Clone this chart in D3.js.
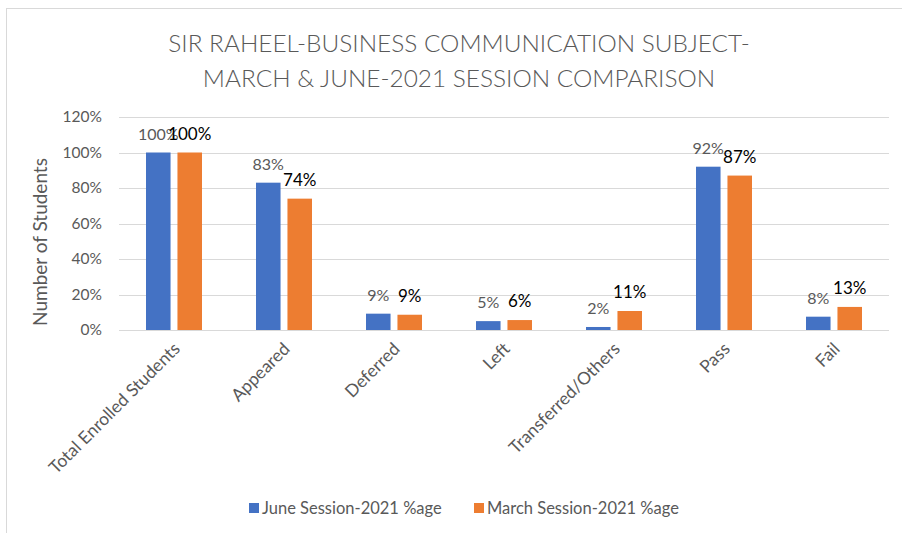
<!DOCTYPE html>
<html>
<head>
<meta charset="utf-8">
<script src="https://cdn.jsdelivr.net/npm/d3@7"></script>
<style>
  body { margin: 0; background: #fff; }
  text { font-family: Lato, "Open Sans", sans-serif; }
</style>
</head>
<body>
<div id="chart"></div>
<script>
var categories = ["Total Enrolled Students", "Appeared", "Deferred", "Left", "Transferred/Others", "Pass", "Fail"];
var juneValues = [100, 83, 9.2, 5, 1.7, 92, 7.5];
var marchValues = [100, 74, 8.6, 5.6, 10.7, 87, 13];
var seriesNames = ["June Session-2021 %age", "March Session-2021 %age"];
var seriesColors = ["#4472C4", "#ED7D31"];
var yTicks = [0, 20, 40, 60, 80, 100, 120];
var titleLines = ["SIR RAHEEL-BUSINESS COMMUNICATION SUBJECT-", "MARCH & JUNE-2021 SESSION COMPARISON"];

var W = 902, H = 533;
var margin = {left: 119, right: 13, top: 117, bottom: 203};

var svg = d3.select("#chart").append("svg")
	.attr("width", W)
	.attr("height", H);

// chart frame
svg.append("rect")
	.attr("x", 6.5).attr("y", 8.5)
	.attr("width", W + 10).attr("height", H + 10)
	.attr("fill", "#fff")
	.attr("stroke", "#d9d9d9");

// title
svg.selectAll(".title")
	.data(titleLines)
	.enter().append("text")
	.attr("class", "title")
	.attr("x", 459)
	.attr("y", function(d, i){ return 52 + i * 35; })
	.attr("text-anchor", "middle")
	.attr("fill", "#595959")
	.style("font-size", "24.4px")
	.style("font-weight", 300)
	.text(function(d){ return d; });

var x = d3.scaleBand()
	.domain(categories)
	.range([margin.left, W - margin.right]);

var xInner = d3.scaleBand()
	.domain([0, 1])
	.range([27, 83])
	.paddingInner(0.22);

var y = d3.scaleLinear()
	.domain([0, 120])
	.range([H - margin.bottom, margin.top]);

// gridlines
svg.append("g")
	.selectAll("line")
	.data(yTicks)
	.enter().append("line")
	.attr("x1", margin.left)
	.attr("x2", W - margin.right)
	.attr("y1", function(d){ return Math.round(y(d)) + 0.5; })
	.attr("y2", function(d){ return Math.round(y(d)) + 0.5; })
	.attr("stroke", "#d9d9d9")
	.attr("stroke-width", 1);

// y axis labels
var yAxis = d3.axisLeft(y)
	.tickValues(yTicks)
	.tickFormat(function(d){ return d + "%"; })
	.tickSize(0)
	.tickPadding(17);
var yg = svg.append("g")
	.attr("transform", "translate(" + margin.left + ",0)")
	.call(yAxis);
yg.select(".domain").remove();
yg.selectAll("text")
	.attr("fill", "#595959")
	.style("font-size", "15.5px");

svg.append("text")
	.attr("transform", "translate(47,242) rotate(-90)")
	.attr("text-anchor", "middle")
	.attr("fill", "#595959")
	.style("font-size", "19px")
	.text("Number of Students");

// x axis labels
var xAxis = d3.axisBottom(x).tickSize(0).tickPadding(0);
var xg = svg.append("g")
	.attr("transform", "translate(0," + (H - margin.bottom) + ")")
	.call(xAxis);
xg.select(".domain").remove();
xg.selectAll("text")
	.attr("fill", "#595959")
	.style("font-size", "17.5px")
	.attr("text-anchor", "end")
	.attr("dy", 0)
	.attr("transform", "translate(7,20) rotate(-45)");

// bars
var series = [juneValues, marchValues];
series.forEach(function(vals, s){
	var g = svg.append("g");
	g.selectAll("rect")
		.data(vals)
		.enter().append("rect")
		.attr("x", function(d, i){ return x(categories[i]) + xInner(s); })
		.attr("width", xInner.bandwidth())
		.attr("y", function(d){ return y(d); })
		.attr("height", function(d){ return y(0) - y(d); })
		.attr("fill", seriesColors[s]);

	g.selectAll("text")
		.data(vals)
		.enter().append("text")
		.attr("x", function(d, i){ return x(categories[i]) + xInner(s) + xInner.bandwidth() / 2; })
		.attr("y", function(d){ return y(d) - 13; })
		.attr("text-anchor", "middle")
		.attr("fill", s === 0 ? "#595959" : "#000")
		.style("font-size", s === 0 ? "16px" : "17px")
		.text(function(d){ return Math.round(d) + "%"; });
});

// legend
var legendX = [249, 474];
var lg = svg.append("g");
seriesNames.forEach(function(name, i){
	lg.append("rect")
		.attr("x", legendX[i]).attr("y", 503)
		.attr("width", 10).attr("height", 10)
		.attr("fill", seriesColors[i]);
	lg.append("text")
		.attr("x", legendX[i] + 13)
		.attr("y", 514)
		.attr("fill", "#595959")
		.style("font-size", "16.5px")
		.text(name);
});
</script>
</body>
</html>
